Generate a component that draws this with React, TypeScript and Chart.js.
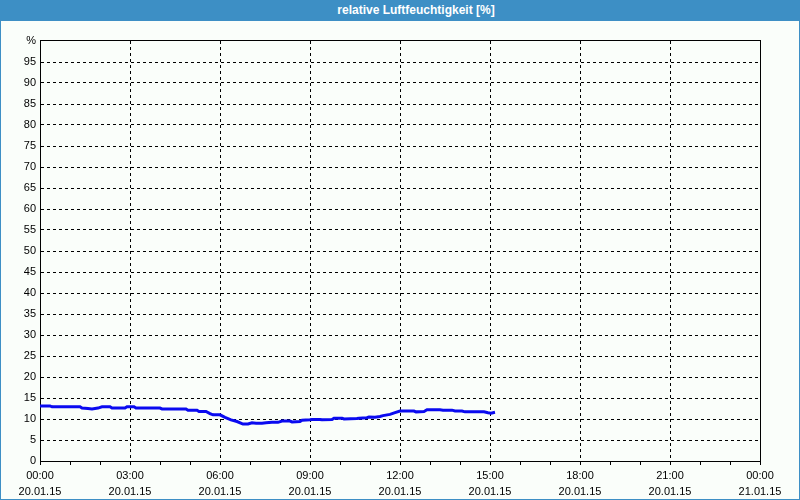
import React, { useEffect, useRef } from "react";
import { Chart, registerables } from "chart.js";

Chart.register(...registerables);

const TITLE = "relative Luftfeuchtigkeit [%]";

// minutes since 20.01.15 00:00
const times = [
  0, 20, 24, 80, 84, 96, 104, 116, 124, 140, 144, 170, 174, 188, 192, 240, 244,
  292, 296, 314, 318, 332, 340, 346, 360, 370, 382, 394, 406, 416, 424, 432,
  444, 452, 464, 476, 484, 500, 504, 520, 524, 540, 544, 560, 564, 584, 588,
  604, 608, 634, 638, 654, 658, 670, 680, 686, 700, 710, 720, 748, 752, 768,
  774, 800, 806, 824, 830, 844, 850, 888, 896, 902, 910,
];
const humidity = [
  13.1, 13.1, 12.9, 12.9, 12.6, 12.5, 12.4, 12.6, 12.9, 12.9, 12.6, 12.6, 12.9,
  12.9, 12.6, 12.6, 12.4, 12.4, 12.1, 12.1, 11.8, 11.8, 11.3, 11.0, 11.0, 10.4,
  9.8, 9.4, 8.8, 8.8, 9.1, 9.0, 9.0, 9.1, 9.2, 9.2, 9.5, 9.5, 9.3, 9.4, 9.7,
  9.8, 9.9, 9.9, 9.8, 9.9, 10.2, 10.2, 10.0, 10.1, 10.2, 10.3, 10.5, 10.4,
  10.6, 10.8, 11.1, 11.5, 11.9, 11.9, 11.7, 11.8, 12.2, 12.2, 12.1, 12.1, 11.9,
  11.9, 11.7, 11.7, 11.5, 11.4, 11.6,
];

const hourLabels = ["00:00", "03:00", "06:00", "09:00", "12:00", "15:00", "18:00", "21:00", "00:00"];
const dateLabels = ["20.01.15", "20.01.15", "20.01.15", "20.01.15", "20.01.15", "20.01.15", "20.01.15", "20.01.15", "21.01.15"];

const FONT = "'Liberation Sans', Arial, sans-serif";

const framePlugin = {
  id: "frame",
  beforeDatasetsDraw(chart: any) {
    const { ctx, chartArea } = chart;
    ctx.save();
    ctx.strokeStyle = "#000";
    ctx.lineWidth = 1;
    ctx.setLineDash([]);
    ctx.strokeRect(
      Math.round(chartArea.left) + 0.5,
      Math.round(chartArea.top) - 0.5,
      Math.round(chartArea.right - chartArea.left),
      Math.round(chartArea.bottom - chartArea.top) + 1
    );
    ctx.restore();
  },
};

export default function App() {
  const ref = useRef<HTMLCanvasElement | null>(null);

  useEffect(() => {
    document.body.style.margin = "0";
    if (!ref.current) return;
    const chart = new Chart(ref.current, {
      type: "line",
      data: {
        datasets: [
          {
            data: times.map((t, i) => ({ x: t, y: humidity[i] })),
            borderColor: "#0a0af0",
            borderWidth: 3,
            pointRadius: 0,
            tension: 0,
            fill: false,
          },
        ],
      },
      options: {
        animation: false,
        responsive: false,
        maintainAspectRatio: false,
        layout: { padding: { top: 20, right: 39, left: 0, bottom: 0 } },
        plugins: {
          legend: { display: false },
          tooltip: { enabled: false },
          title: { display: false },
        },
        scales: {
          x: {
            type: "linear",
            min: 0,
            max: 1440,
            afterFit: (s: any) => {
              s.height = 38;
            },
            ticks: {
              stepSize: 60,
              autoSkip: false,
              maxRotation: 0,
              minRotation: 0,
              padding: 3,
              color: "#000",
              font: { family: FONT, size: 11, lineHeight: 1.45 },
              callback: (v: any) => {
                const n = Number(v);
                if (n % 180 !== 0) return "";
                const i = n / 180;
                return [hourLabels[i], dateLabels[i]];
              },
            },
            grid: {
              color: (c: any) =>
                c.tick && c.tick.value % 180 === 0 && c.tick.value > 0 && c.tick.value < 1440
                  ? "#000"
                  : "rgba(0,0,0,0)",
              tickColor: "#000",
              tickLength: 4,
              tickBorderDash: [],
              lineWidth: 1,
            },
            border: { display: true, color: "#000", dash: [3, 3] },
          },
          y: {
            min: 0,
            max: 100,
            afterFit: (s: any) => {
              s.width = 39;
            },
            ticks: {
              stepSize: 5,
              padding: 4,
              color: "#000",
              font: { family: FONT, size: 11 },
              callback: (v: any) => (Number(v) === 100 ? "%" : String(v)),
            },
            grid: {
              color: (c: any) =>
                c.tick && c.tick.value > 0 && c.tick.value < 100 ? "#000" : "rgba(0,0,0,0)",
              drawTicks: false,
              lineWidth: 1,
            },
            border: { display: true, color: "#000", dash: [3, 3] },
          },
        },
      },
      plugins: [framePlugin],
    });
    return () => chart.destroy();
  }, []);

  return (
    <div
      style={{
        position: "absolute",
        left: 0,
        top: 0,
        width: 800,
        height: 500,
        boxSizing: "border-box",
        background: "#fafefa",
        borderLeft: "1px solid #3d8fc5",
        borderRight: "1px solid #3d8fc5",
        borderBottom: "1px solid #3d8fc5",
        overflow: "hidden",
      }}
    >
      <div
        style={{
          height: 21,
          background: "#3d8fc5",
          color: "#fff",
          fontFamily: FONT,
          fontWeight: "bold",
          fontSize: 12,
          lineHeight: "21px",
          textAlign: "center",
          marginLeft: -1,
          marginRight: -1,
          paddingLeft: 32,
        }}
      >
        {TITLE}
      </div>
      <canvas ref={ref} width={798} height={478} style={{ display: "block" }} />
    </div>
  );
}
